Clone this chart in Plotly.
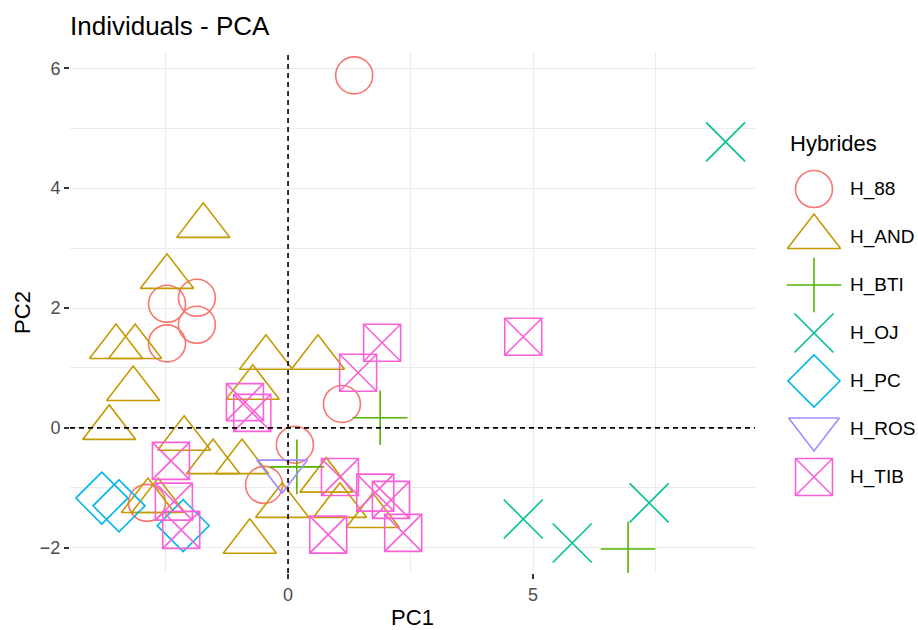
import plotly.graph_objects as go

# ---- data ----
groups = ["H_88", "H_AND", "H_BTI", "H_OJ", "H_PC", "H_ROS", "H_TIB"]

h88_x = [1.35, -2.47, -1.86, -1.86, -2.47, 1.10, 0.14, -0.49, -2.88]
h88_y = [5.88, 2.07, 2.17, 1.72, 1.41, 0.40, -0.28, -0.95, -1.25]

hand_x = [-1.73, -2.47, -3.51, -3.12, -3.16, -3.65, -0.45, 0.61, -0.72, -2.12,
          -1.53, -0.94, -2.86, -2.65, -0.12, -0.78, 0.78, 1.06, 1.73]
hand_y = [3.37, 2.52, 1.35, 1.35, 0.65, 0.00, 1.17, 1.17, 0.67, -0.18,
          -0.57, -0.57, -1.22, -1.22, -1.30, -1.90, -0.88, -1.30, -1.47]

hbti_x = [0.18, 1.88, 6.94]
hbti_y = [-0.65, 0.17, -2.02]

hoj_x = [8.93, 4.80, 5.80, 7.37]
hoj_y = [4.77, -1.52, -1.92, -1.25]

hpc_x = [-3.80, -3.45, -2.14]
hpc_y = [-1.17, -1.30, -1.63]

hros_x = [-0.12]
hros_y = [-0.72]

htib_x = [-0.88, -0.73, 1.92, 1.43, 4.80, -2.39, -2.33, -2.18, 1.06, 1.78, 2.10, 0.82, 2.35]
htib_y = [0.43, 0.25, 1.42, 0.92, 1.52, -0.55, -1.23, -1.70, -0.82, -1.08, -1.20, -1.78, -1.75]

xs = [h88_x, hand_x, hbti_x, hoj_x, hpc_x, hros_x, htib_x]
ys = [h88_y, hand_y, hbti_y, hoj_y, hpc_y, hros_y, htib_y]

legend_title = "Hybrides"

colors = ["#F8766D", "#C49A00", "#53B400", "#00C094", "#00B6EB", "#A58AFF", "#FB61D7"]
symbols = ["circle-open", "triangle-up-open", "cross-thin-open", "x-thin-open",
           "diamond-open", "triangle-down-open", "square-x-open"]
sizes = [37, 46, 39, 39, 40, 44, 37]

FONT = "Liberation Sans, Arial, sans-serif"

W, H = 918, 630
ML, MT, MB = 70, 52, 57
PLOT_R = 755                      # right edge of the panel in px
area_w = W - ML                   # plotting area (right margin 0)
area_h = H - MT - MB

fig = go.Figure()
for name, x, y, c, s, sz in zip(groups, xs, ys, colors, symbols, sizes):
    fig.add_trace(go.Scatter(
        x=x, y=y, mode="markers", name=name, showlegend=False,
        marker=dict(symbol=s, size=sz, color=c, line=dict(color=c, width=1.6)),
        xaxis="x", yaxis="y",
    ))

# ---- legend drawn on its own (hidden) axes so the keys keep full size ----
key_x = 814
text_x = 848
item0_px, item_step = 189, 48
for i, (name, c, s, sz) in enumerate(zip(groups, colors, symbols, sizes)):
    fig.add_trace(go.Scatter(
        x=[key_x], y=[i], mode="markers", name=name, showlegend=False,
        marker=dict(symbol=s, size=sz, color=c, line=dict(color=c, width=1.6)),
        xaxis="x2", yaxis="y2", hoverinfo="skip",
    ))
    fig.add_annotation(x=text_x, y=i, xref="x2", yref="y2", text=name,
                       showarrow=False, xanchor="left", yanchor="middle",
                       font=dict(size=19, color="black", family=FONT))
fig.add_annotation(x=788, y=(143 - item0_px) / item_step, xref="x2", yref="y2",
                   text=legend_title, showarrow=False, xanchor="left", yanchor="middle",
                   font=dict(size=22, color="black", family=FONT))

fig.add_shape(type="line", xref="x", yref="paper", x0=0, x1=0, y0=0, y1=1,
              line=dict(color="black", width=1.6, dash="5px,4px"))
fig.add_shape(type="line", xref="x domain", yref="y", x0=0, x1=1, y0=0, y1=0,
              line=dict(color="black", width=1.6, dash="5px,4px"))

leg_x0 = 760
y2_top = (MT - item0_px) / item_step
y2_bot = (MT + area_h - item0_px) / item_step

fig.update_layout(
    width=W, height=H,
    margin=dict(l=ML, r=0, t=MT, b=MB),
    paper_bgcolor="white", plot_bgcolor="white",
    font=dict(family=FONT, color="black"),
    title=dict(text="Individuals - PCA", xref="paper", x=0, xanchor="left",
               yref="container", y=1 - 17 / H, yanchor="top",
               font=dict(size=26, color="black")),
    showlegend=False,
    xaxis=dict(
        domain=[0, (PLOT_R - ML) / area_w],
        range=[-4.45, 9.53], tick0=0, dtick=5, showgrid=True,
        gridcolor="#EBEBEB", gridwidth=1.4, zeroline=False,
        ticks="outside", ticklen=5, tickwidth=1.5, tickcolor="#333333",
        tickfont=dict(size=18, color="#4D4D4D"),
        minor=dict(dtick=2.5, tick0=0, showgrid=True, gridcolor="#EBEBEB", gridwidth=1.2, ticks=""),
        title=dict(text="PC1", font=dict(size=22), standoff=13),
        showline=False, automargin=False,
    ),
    yaxis=dict(
        domain=[0, 1],
        range=[-2.42, 6.27], tick0=0, dtick=2, showgrid=True,
        gridcolor="#EBEBEB", gridwidth=1.4, zeroline=False,
        ticks="outside", ticklen=5, tickwidth=1.5, tickcolor="#333333",
        tickfont=dict(size=18, color="#4D4D4D"),
        minor=dict(dtick=1, tick0=0, showgrid=True, gridcolor="#EBEBEB", gridwidth=1.2, ticks=""),
        title=dict(text="PC2", font=dict(size=22), standoff=3),
        showline=False, automargin=False,
    ),
    xaxis2=dict(domain=[(leg_x0 - ML) / area_w, 1], range=[leg_x0, W],
                visible=False, fixedrange=True, anchor="y2"),
    yaxis2=dict(domain=[0, 1], range=[y2_bot, y2_top], visible=False,
                fixedrange=True, anchor="x2"),
)

fig.write_html("out.html", config={"displayModeBar": False},
               post_script="document.body.style.margin='0px';")
